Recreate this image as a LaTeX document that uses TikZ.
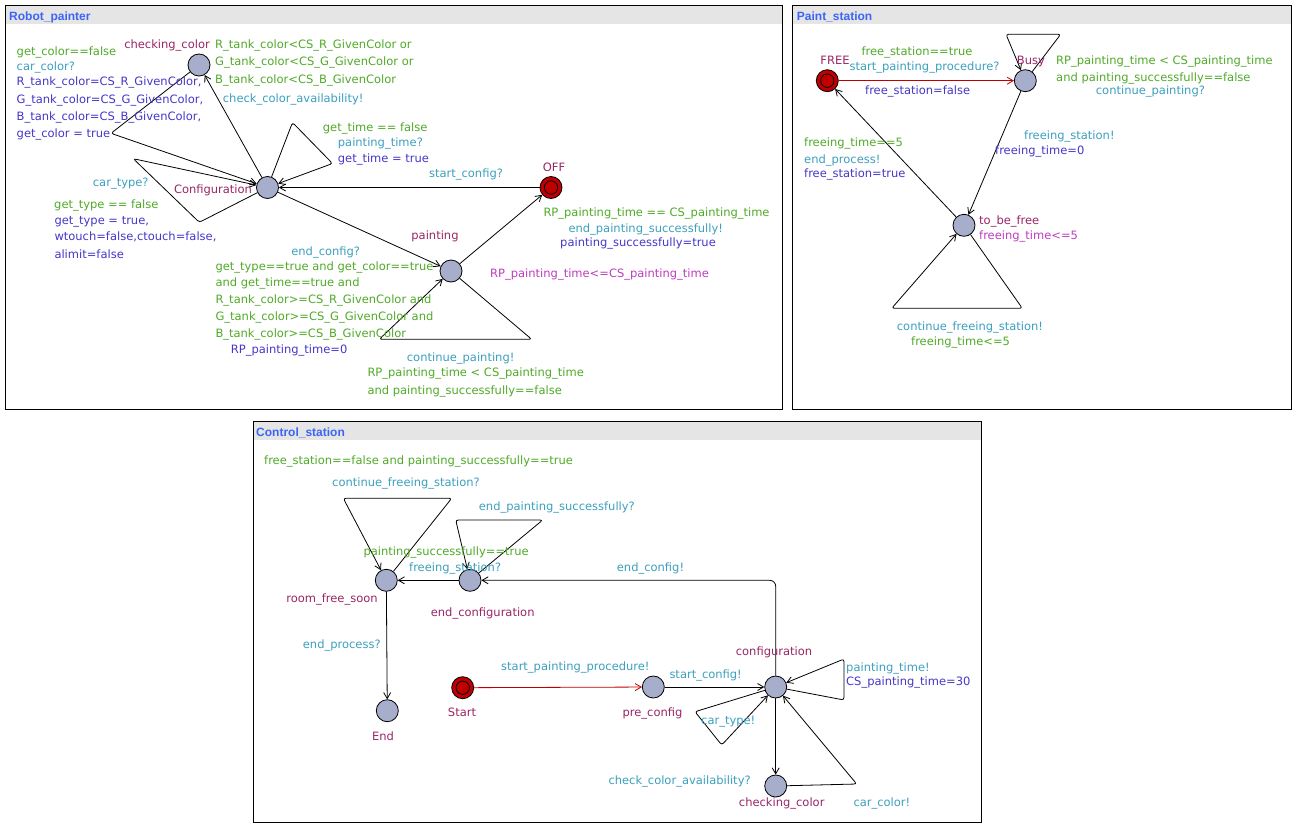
\documentclass[tikz,border=0pt]{standalone}
\usepackage{fontspec}
\setmainfont{DejaVu Sans}
\newfontfamily\titlefont{Liberation Sans}
\usetikzlibrary{arrows.meta}
\definecolor{locfill}{RGB}{166,174,204}
\definecolor{initred}{RGB}{192,0,0}
\definecolor{cname}{RGB}{153,38,102}
\definecolor{cguard}{RGB}{80,170,40}
\definecolor{csync}{RGB}{60,160,190}
\definecolor{cupd}{RGB}{70,55,200}
\definecolor{cinv}{RGB}{190,60,190}
\definecolor{ctitle}{RGB}{60,100,245}
\definecolor{barbg}{RGB}{229,229,229}
\newcommand\lblsize{\fontsize{11.5}{13}\selectfont}
\begin{document}
\begin{tikzpicture}[x=1pt,y=-1pt,
  loc/.style={circle, minimum size=22pt, inner sep=0pt, fill=locfill, draw=black, line width=0.8pt},
  iloc/.style={loc, fill=initred, path picture={\draw[line width=0.8pt] (path picture bounding box.center) circle (6.7pt);}},
  lab/.style={inner sep=0pt, font=\lblsize},
  tl/.style={lab, anchor=base west},
  tc/.style={lab, anchor=base},
  te/.style={lab, anchor=base east},
  kgd/.style={text=cguard}, ksy/.style={text=csync}, kup/.style={text=cupd},
  knm/.style={text=cname}, kiv/.style={text=cinv},
  tr/.style={draw=black, line width=0.8pt, rounded corners=2.5pt, -{Straight Barb[length=6pt,width=7pt]}},
  trred/.style={tr, draw=initred},
  panel/.style={draw=black, line width=1pt},
  bar/.style={fill=barbg},
  ttl/.style={inner sep=0pt, anchor=base west, font=\titlefont\bfseries\fontsize{12}{14}\selectfont, text=ctitle}
]
\useasboundingbox (0,0) rectangle (1304,830);
\fill[white] (0,0) rectangle (1304,830);

% ================= Robot_painter =================
\fill[bar] (5.5,5.5) rectangle (782.5,24);
\draw[panel] (5.5,5.5) rectangle (782.5,409.5);
\node[ttl] (t1) at (9,20) {Robot\_painter};

\node[loc] (rcc) at (199,65) {};
\node[loc] (rconf) at (267.5,187.5) {};
\node[iloc] (roff) at (551,187.5) {};
\node[loc] (rpaint) at (451,271) {};

\coordinate (rn1) at (111,133.3);
\coordinate (rn2) at (292.5,122.5);
\coordinate (rn3) at (332.5,163.5);
\coordinate (rn4) at (199.3,222.3);
\coordinate (rn5) at (133.3,158.7);
\coordinate (rn6) at (531.7,339.3);
\coordinate (rn7) at (379.3,339.3);

\draw[tr] (rconf) -- (rcc);
\draw[tr] (rcc) -- (rn1) -- (rconf);
\draw[tr] (rconf) -- (rn2) -- (rn3) -- (rconf);
\draw[tr] (rconf) -- (rn4) -- (rn5) -- (rconf);
\draw[tr] (roff) -- (rconf);
\draw[tr] (rconf) -- (rpaint);
\draw[tr] (rpaint) -- (roff);
\draw[tr] (rpaint) -- (rn6) -- (rn7) -- (rpaint);

\node[te,knm] (rl1) at (210,48) {checking\_color};
\node[tc,knm] (rl2) at (213,193) {Configuration};
\node[tc,knm] (rl3) at (554,171) {OFF};
\node[tc,knm] (rl4) at (435,239) {painting};

\node[tl,kgd] (ra1) at (215,48) {R\_tank\_color<CS\_R\_GivenColor or};
\node[tl,kgd] (ra2) at (215,65.7) {G\_tank\_color<CS\_G\_GivenColor or};
\node[tl,kgd] (ra3) at (215,83) {B\_tank\_color<CS\_B\_GivenColor};
\node[tl,ksy] (ra4) at (222.7,102) {check\_color\_availability!};

\node[tl,kgd] (rb1) at (16.5,55.7) {get\_color==false};
\node[tl,ksy] (rb2) at (16.5,70.7) {car\_color?};
\node[tl,kup] (rb3) at (16.5,85.7) {R\_tank\_color=CS\_R\_GivenColor,};
\node[tl,kup] (rb4) at (16.5,103) {G\_tank\_color=CS\_G\_GivenColor,};
\node[tl,kup] (rb5) at (16.5,120) {B\_tank\_color=CS\_B\_GivenColor,};
\node[tl,kup] (rb6) at (16.5,137.7) {get\_color = true};

\node[tl,kgd] (rc1) at (322.7,131.7) {get\_time == false};
\node[tl,ksy] (rc2) at (337.7,146.7) {painting\_time?};
\node[tl,kup] (rc3) at (337.7,162.3) {get\_time = true};

\node[tl,ksy] (rd1) at (92.7,186.3) {car\_type?};
\node[tl,kgd] (rd2) at (54,208.3) {get\_type == false};
\node[tl,kup] (rd3) at (54.3,224) {get\_type = true,};
\node[tl,kup] (rd4) at (54.3,240.7) {wtouch=false,ctouch=false,};
\node[tl,kup] (rd5) at (54.3,258) {alimit=false};

\node[tc,ksy] (re1) at (466,177.3) {start\_config?};

\node[tc,ksy] (rf1) at (325.7,255) {end\_config?};
\node[tl,kgd] (rf2) at (215.3,270) {get\_type==true and get\_color==true};
\node[tl,kgd] (rf3) at (215.3,286.7) {and get\_time==true and};
\node[tl,kgd] (rf4) at (215.3,303.3) {R\_tank\_color>=CS\_R\_GivenColor and};
\node[tl,kgd] (rf5) at (215.3,320.7) {G\_tank\_color>=CS\_G\_GivenColor and};
\node[tl,kgd] (rf6) at (215.3,337.7) {B\_tank\_color>=CS\_B\_GivenColor};
\node[tl,kup] (rf7) at (230.7,353.3) {RP\_painting\_time=0};

\node[tl,kgd] (rg1) at (543.3,216.3) {RP\_painting\_time == CS\_painting\_time};
\node[tl,ksy] (rg2) at (568.3,232.3) {end\_painting\_successfully!};
\node[tl,kup] (rg3) at (560,246.7) {painting\_successfully=true};

\node[tl,ksy] (rh1) at (406.7,361.7) {continue\_painting!};
\node[tl,kgd] (rh2) at (367.3,376.7) {RP\_painting\_time < CS\_painting\_time};
\node[tl,kgd] (rh3) at (367.3,394) {and painting\_successfully==false};

\node[tl,kiv] (ri1) at (490,277.3) {RP\_painting\_time<=CS\_painting\_time};

% ================= Paint_station =================
\fill[bar] (792.5,5.5) rectangle (1291.5,24);
\draw[panel] (792.5,5.5) rectangle (1291.5,409.5);
\node[ttl] (t2) at (796.7,20) {Paint\_station};

\node[iloc] (pfree) at (827.3,80.7) {};
\node[loc] (pbusy) at (1025.3,80.7) {};
\node[loc] (ptbf) at (964,225.3) {};

\coordinate (pn1) at (1060.7,34.3);
\coordinate (pn2) at (1006,34.3);
\coordinate (pn3) at (1022.3,308.3);
\coordinate (pn4) at (891.7,308.3);

\draw[trred] (pfree) -- (pbusy);
\draw[tr] (pbusy) -- (pn1) -- (pn2) -- (pbusy);
\draw[tr] (pbusy) -- (ptbf);
\draw[tr] (ptbf) -- (pfree);
\draw[tr] (ptbf) -- (pn3) -- (pn4) -- (ptbf);

\node[tc,knm] (pl1) at (835,64) {FREE};
\node[tl,knm] (pl2) at (1016.7,64) {Busy};
\node[tl,knm] (pl3) at (979,224) {to\_be\_free};
\node[tl,kiv] (pl4) at (979,239) {freeing\_time<=5};

\node[tc,kgd] (pa1) at (917,55.7) {free\_station==true};
\node[tc,ksy] (pa2) at (924.5,70.7) {start\_painting\_procedure?};
\node[tl,kup] (pa3) at (865,94) {free\_station=false};

\node[tl,kgd] (pb1) at (1056,64) {RP\_painting\_time < CS\_painting\_time};
\node[tl,kgd] (pb2) at (1056,81) {and painting\_successfully==false};
\node[tl,ksy] (pb3) at (1095.7,94) {continue\_painting?};

\node[tl,ksy] (pc1) at (1024,139) {freeing\_station!};
\node[tl,kup] (pc2) at (995,154.7) {freeing\_time=0};

\node[tl,kgd] (pd1) at (804,146.7) {freeing\_time==5};
\node[tl,ksy] (pd2) at (804,163) {end\_process!};
\node[tl,kup] (pd3) at (804,177.7) {free\_station=true};

\node[tl,ksy] (pe1) at (896.7,330.7) {continue\_freeing\_station!};
\node[tl,kgd] (pe2) at (911,345.7) {freeing\_time<=5};

% ================= Control_station =================
\fill[bar] (253.5,421.7) rectangle (981,440);
\draw[panel] (253.5,421.7) rectangle (981,822);
\node[ttl] (t3) at (256,436) {Control\_station};

\node[loc] (crfs) at (386.3,580.3) {};
\node[loc] (cendc) at (470,580.3) {};
\node[loc] (cend) at (387.3,710.7) {};
\node[iloc] (cstart) at (462.7,687.7) {};
\node[loc] (cpre) at (653.3,687) {};
\node[loc] (cconf) at (775.7,687) {};
\node[loc] (ccc) at (775.7,786) {};

\coordinate (cn1) at (451.7,498.3);
\coordinate (cn2) at (343.3,498.3);
\coordinate (cn3) at (542.7,520);
\coordinate (cn4) at (455.7,520);
\coordinate (cn5) at (775.7,580.3);
\coordinate (cn6) at (844,700);
\coordinate (cn7) at (844,659);
\coordinate (cn8) at (695,711.7);
\coordinate (cn9) at (721.7,745);
\coordinate (cn10) at (856.7,784);

\draw[tr] (crfs) -- (cn1) -- (cn2) -- (crfs);
\draw[tr] (cendc) -- (cn3) -- (cn4) -- (cendc);
\draw[tr] (cendc) -- (crfs);
\draw[tr] (crfs) -- (cend);
\draw[trred] (cstart) -- (cpre);
\draw[tr] (cpre) -- (cconf);
\draw[tr, rounded corners=6pt] (cconf) -- (cn5) -- (cendc);
\draw[tr] (cconf) -- (cn6) -- (cn7) -- (cconf);
\draw[tr] (cconf) -- (cn8) -- (cn9) -- (cconf);
\draw[tr] (cconf) -- (ccc);
\draw[tr] (ccc) -- (cn10) -- (cconf);

\node[tc,knm] (cl1) at (332,602) {room\_free\_soon};
\node[tc,knm] (cl2) at (482.7,616.7) {end\_configuration};
\node[tc,knm] (cl3) at (383,740) {End};
\node[tc,knm] (cl4) at (462,716) {Start};
\node[tc,knm] (cl5) at (652.5,716) {pre\_config};
\node[tc,knm] (cl6) at (774,655) {configuration};
\node[tc,knm] (cl7) at (781.7,806) {checking\_color};

\node[tl,kgd] (ca1) at (264,464) {free\_station==false and painting\_successfully==true};
\node[tc,ksy] (ca2) at (406,486.7) {continue\_freeing\_station?};
\node[tl,ksy] (cb1) at (478.7,510) {end\_painting\_successfully?};
\node[tl,kgd] (cc1) at (363.3,555.7) {painting\_successfully==true};
\node[tl,ksy] (cc2) at (409,571) {freeing\_station?};
\node[tl,ksy] (cd1) at (302.7,648.3) {end\_process?};
\node[tl,ksy] (ce1) at (501,670) {start\_painting\_procedure!};
\node[tl,ksy] (cf1) at (669.3,678) {start\_config!};
\node[tl,ksy] (cg1) at (616.7,571.3) {end\_config!};
\node[tl,ksy] (ch1) at (846,671.3) {painting\_time!};
\node[tl,kup] (ch2) at (846,685.7) {CS\_painting\_time=30};
\node[tl,ksy] (ci1) at (701,724) {car\_type!};
\node[tl,ksy] (cj1) at (608.3,784.7) {check\_color\_availability?};
\node[tl,ksy] (ck1) at (853.3,806.7) {car\_color!};
\end{tikzpicture}
\end{document}
